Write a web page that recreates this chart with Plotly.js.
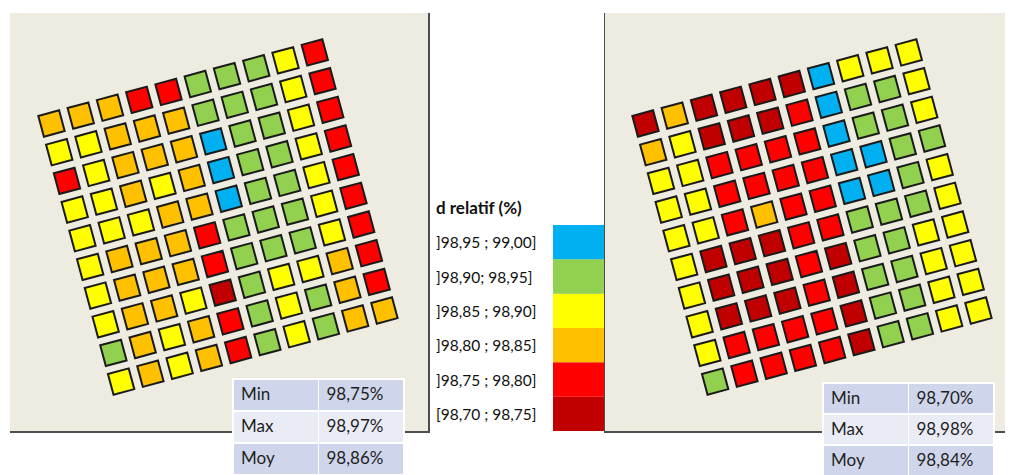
<!DOCTYPE html>
<html><head><meta charset="utf-8">
<script src="https://cdn.plot.ly/plotly-3.0.1.min.js"></script>
<style>html,body{margin:0;padding:0;background:#fff;}#chart{width:1009px;height:475px;}</style>
</head><body><div id="chart"></div>
<script>
// class index: 0=[98,70;98,75] 1=]98,75;98,80] 2=]98,80;98,85] 3=]98,85;98,90] 4=]98,90;98,95] 5=]98,95;99,00]
const classLabels = ['[98,70 ; 98,75]', ']98,75 ; 98,80]', ']98,80 ; 98,85]', ']98,85 ; 98,90]', ']98,90; 98,95]', ']98,95 ; 99,00]'];
const classColors = ['#C00000', '#FF0000', '#FFC000', '#FFFF00', '#92D050', '#00B0F0'];
const legendTitle = 'd relatif (%)';

const leftGrid = [
  [2,2,2,1,1,4,4,4,3,1],
  [3,3,2,2,2,4,4,4,3,1],
  [1,3,2,2,2,5,4,4,3,1],
  [3,3,2,3,2,5,4,4,3,1],
  [3,3,3,2,2,5,4,4,3,1],
  [3,2,2,2,1,4,4,4,3,1],
  [3,2,2,2,1,4,4,4,3,1],
  [3,2,2,3,0,4,3,3,2,1],
  [4,2,3,2,1,4,3,4,2,1],
  [3,2,3,2,1,4,3,4,2,2]
];
const rightGrid = [
  [0,2,0,0,0,0,5,3,3,3],
  [2,3,0,0,0,1,5,4,4,3],
  [3,3,1,1,1,1,5,4,4,3],
  [3,3,1,1,1,1,5,5,4,4],
  [3,3,1,2,1,1,5,5,4,3],
  [3,0,0,0,1,1,4,4,4,3],
  [3,0,0,0,1,0,4,4,3,3],
  [3,0,0,0,1,0,4,4,3,3],
  [3,1,1,1,1,0,4,4,3,3],
  [4,1,1,1,1,0,4,4,3,3]
];
const statNames = ['Min', 'Max', 'Moy'];
const leftStats = ['98,75%', '98,97%', '98,86%'];
const rightStats = ['98,70%', '98,98%', '98,84%'];

// ---- layout helpers ----
const W = 1009, H = 475;
const fx = v => v / W, fy = v => 1 - v / H;
const theta = 15.1 * Math.PI / 180;
const pitchC = 30.3, pitchR = 29.7;

function gridTrace(grid, ox, oy, xa, ya) {
  const x = [], y = [], col = [];
  grid.forEach((row, r) => row.forEach((k, c) => {
    x.push(ox + c * pitchC * Math.cos(theta) + r * pitchR * Math.sin(theta));
    y.push(oy - c * pitchC * Math.sin(theta) + r * pitchR * Math.cos(theta));
    col.push(classColors[k]);
  }));
  return {type: 'scatter', mode: 'markers', x, y, xaxis: xa, yaxis: ya, hoverinfo: 'skip',
    marker: {symbol: 'square', size: 21.5, angle: -15.1, color: col, line: {color: '#1a1a1a', width: 2}}};
}

function tableTrace(vals, x0, x1, ytop, rowH) {
  return {type: 'table', domain: {x: [fx(x0), fx(x1)], y: [0, fy(ytop)]},
    columnwidth: [1, 1],
    header: {values: [statNames[0], vals[0]], height: rowH, align: 'left',
      fill: {color: '#CFD5EA'}, line: {color: '#ffffff', width: 1.5},
      font: {family: 'Lato, sans-serif', size: 17, color: '#1f1f1f'}},
    cells: {values: [statNames.slice(1), vals.slice(1)], height: rowH, align: 'left',
      fill: {color: [['#E9EBF5', '#CFD5EA'], ['#E9EBF5', '#CFD5EA']]}, line: {color: '#ffffff', width: 1.5},
      font: {family: 'Lato, sans-serif', size: 17, color: '#1f1f1f'}}
  };
}

const legendBar = {type: 'bar', x: classLabels.map(() => 0), y: classLabels.map(() => 1),
  base: classLabels.map((_, i) => i), width: 1, xaxis: 'x3', yaxis: 'y3', hoverinfo: 'skip',
  marker: {color: classColors, line: {width: 0}}};

const data = [
  gridTrace(leftGrid, 41.5, 110.5, 'x', 'y'),
  gridTrace(rightGrid, 40.5, 110.5, 'x2', 'y2'),
  legendBar,
  tableTrace(leftStats, 233, 404, 379, 32),
  tableTrace(rightStats, 823, 994, 383, 31)
];

const lineCol = '#4d4d4d';
const annotations = classLabels.map((t, i) => ({
  text: t, xref: 'paper', yref: 'y3', x: fx(434), y: i + 0.5, xanchor: 'left', yanchor: 'middle',
  showarrow: false, font: {family: 'Lato, sans-serif', size: 15.5, color: '#111111'}
}));
annotations.push({text: '<b>' + legendTitle + '</b>', xref: 'paper', yref: 'paper', x: fx(434), y: fy(207),
  xanchor: 'left', yanchor: 'middle', showarrow: false, font: {family: 'Lato, sans-serif', size: 17, color: '#111111'}});

const layout = {
  width: W, height: H, margin: {l: 0, r: 0, t: 0, b: 0}, showlegend: false,
  paper_bgcolor: '#ffffff', plot_bgcolor: '#EEECE1',
  xaxis: {domain: [fx(10), fx(428)], range: [0, 418], showgrid: false, zeroline: false, showticklabels: false,
    ticks: '', showline: true, linecolor: lineCol, linewidth: 1.5, fixedrange: true},
  yaxis: {domain: [fy(431), fy(13)], range: [418, 0], showgrid: false, zeroline: false, showticklabels: false,
    ticks: '', showline: true, side: 'right', linecolor: lineCol, linewidth: 1.5, fixedrange: true},
  xaxis2: {domain: [fx(605), fx(1005)], range: [0, 400], showgrid: false, zeroline: false, showticklabels: false,
    ticks: '', showline: true, linecolor: lineCol, linewidth: 1.5, fixedrange: true, anchor: 'y2'},
  yaxis2: {domain: [fy(431), fy(13)], range: [418, 0], showgrid: false, zeroline: false, showticklabels: false,
    ticks: '', showline: true, side: 'left', linecolor: lineCol, linewidth: 1.5, fixedrange: true, anchor: 'x2'},
  xaxis3: {domain: [fx(553), fx(604)], range: [-0.5, 0.5], visible: false, fixedrange: true, anchor: 'y3'},
  yaxis3: {domain: [fy(431), fy(225)], range: [0, 6], visible: false, fixedrange: true, anchor: 'x3'},
  annotations: annotations
};

Plotly.newPlot('chart', data, layout, {displayModeBar: false, staticPlot: true});
</script></body></html>
